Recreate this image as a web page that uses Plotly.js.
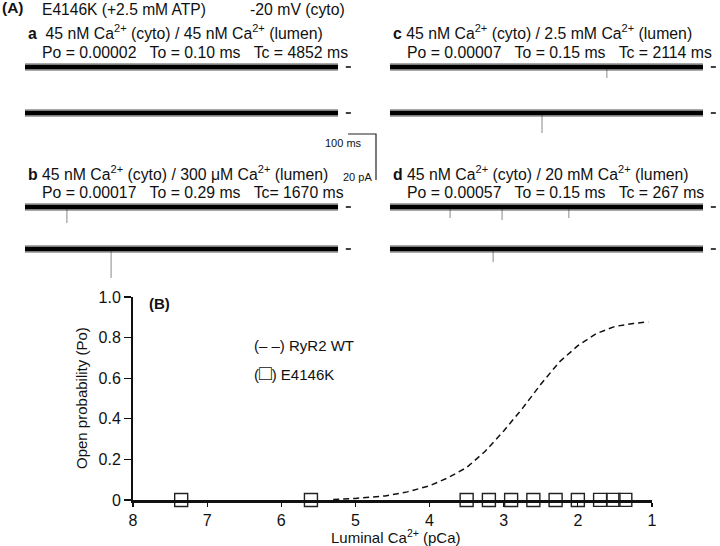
<!DOCTYPE html>
<html><head><meta charset="utf-8">
<script src="https://cdn.plot.ly/plotly-3.0.1.min.js"></script>
<style>html,body{margin:0;padding:0;background:#fff}</style>
</head><body>
<div id="chart" style="width:720px;height:546px"></div>
<script>
// ---------- DATA ----------
// Panel A: single-channel records
const panelIds = ['a', 'b', 'c', 'd'];
const lumenCa = ['45 nM', '300 μM', '2.5 mM', '20 mM'];
const cytoCa = '45 nM';
const poValues = ['0.00002', '0.00017', '0.00007', '0.00057'];
const toValues = ['0.10', '0.29', '0.15', '0.15'];
const tcValues = ['4852', '1670', '2114', '267'];
const sweepDuration = 1120; // ms per sweep
// openings visible in each sweep: time (ms) and amplitude (pA)
const spikeTimesA1 = [], spikeAmpsA1 = [];
const spikeTimesA2 = [], spikeAmpsA2 = [];
const spikeTimesB1 = [150], spikeAmpsB1 = [7.0];
const spikeTimesB2 = [308], spikeAmpsB2 = [12.6];
const spikeTimesC1 = [776], spikeAmpsC1 = [4.8];
const spikeTimesC2 = [544], spikeAmpsC2 = [8.7];
const spikeTimesD1 = [215, 401, 640], spikeAmpsD1 = [4.8, 5.7, 4.8];
const spikeTimesD2 = [369], spikeAmpsD2 = [5.7];

// Panel B: Po vs luminal pCa
const pCaE4146K = [7.35, 5.6, 3.5, 3.2, 2.9, 2.6, 2.3, 2.0, 1.7, 1.52, 1.36];
const poE4146K = [0.00002, 0.00003, 0.00017, 0.0001, 0.0001, 0.00007, 0.0002, 0.0003, 0.00057, 0.0005, 0.0006];
const pCaWT = [5.3, 5.0, 4.6, 4.3, 4.0, 3.75, 3.5, 3.25, 3.0, 2.75, 2.5, 2.25, 2.0, 1.75, 1.5, 1.25, 1.05];
const poWT = [0.002, 0.008, 0.02, 0.04, 0.07, 0.11, 0.16, 0.24, 0.34, 0.45, 0.57, 0.68, 0.76, 0.82, 0.855, 0.87, 0.877];
const xTickVals = [8, 7, 6, 5, 4, 3, 2, 1];
const yTickVals = [0, 0.2, 0.4, 0.6, 0.8, 1.0];
const yTickText = ['0', '0.2', '0.4', '0.6', '0.8', '1.0'];

// ---------- LAYOUT HELPERS ----------
const W = 720, H = 546;
const FONT = 'Liberation Sans, Arial, sans-serif';
const px = x => x / W;
const py = y => 1 - y / H;
const PX_PER_PA = 2.3;
const PX_PER_MS = 313 / sweepDuration;
const X_MAX = 1168;
const LABEL_SIZE = 15.8;

const spikes = [
  [[spikeTimesA1, spikeAmpsA1], [spikeTimesA2, spikeAmpsA2]],
  [[spikeTimesB1, spikeAmpsB1], [spikeTimesB2, spikeAmpsB2]],
  [[spikeTimesC1, spikeAmpsC1], [spikeTimesC2, spikeAmpsC2]],
  [[spikeTimesD1, spikeAmpsD1], [spikeTimesD2, spikeAmpsD2]]
];
const leftPx = [25, 25, 390, 390];
const base1Px = [67, 207, 67, 207];
const base2Px = [113, 249, 113, 249];

const traces = [];
const layout = {
  width: W, height: H,
  margin: {l: 0, r: 0, t: 0, b: 0},
  paper_bgcolor: '#fff', plot_bgcolor: 'rgba(0,0,0,0)',
  showlegend: false,
  font: {family: FONT, color: '#111', size: 15},
  annotations: [], shapes: []
};

panelIds.forEach((id, i) => {
  const n = i + 2;
  const xa = 'x' + n, ya = 'y' + n;
  const top = base1Px[i] - 12, bot = base1Px[i] + 78;
  layout['xaxis' + n] = {
    domain: [px(leftPx[i]), px(leftPx[i] + X_MAX * PX_PER_MS)],
    range: [0, X_MAX], visible: false, anchor: ya, fixedrange: true
  };
  layout['yaxis' + n] = {
    domain: [py(bot), py(top)],
    range: [-78 / PX_PER_PA, 12 / PX_PER_PA], visible: false, anchor: xa, fixedrange: true
  };
  const offsets = [0, -(base2Px[i] - base1Px[i]) / PX_PER_PA];
  offsets.forEach((off, s) => {
    const [tArr, aArr] = spikes[i][s];
    const sx = [], sy = [];
    tArr.forEach((t, k) => { sx.push(t, t, null); sy.push(off, off - aArr[k], null); });
    if (sx.length) traces.push({x: sx, y: sy, xaxis: xa, yaxis: ya, mode: 'lines',
      line: {color: '#8a8a8a', width: 1}, hoverinfo: 'skip'});
    traces.push({x: [0, sweepDuration], y: [off, off], xaxis: xa, yaxis: ya, mode: 'lines',
      line: {color: 'rgba(40,40,40,0.4)', width: 8}, hoverinfo: 'skip'});
    traces.push({x: [0, sweepDuration], y: [off, off], xaxis: xa, yaxis: ya, mode: 'lines',
      line: {color: '#000', width: 4.5}, hoverinfo: 'skip'});
    traces.push({x: [1148, 1166], y: [off, off], xaxis: xa, yaxis: ya, mode: 'lines',
      line: {color: '#000', width: 1.3}, hoverinfo: 'skip'});
  });
  const sp = '\u00A0\u00A0\u00A0';
  layout.annotations.push({
    xref: 'paper', yref: 'paper', x: px(leftPx[i] + 1), y: py(i % 2 === 0 ? 32 : 173),
    xanchor: 'left', yanchor: 'middle', showarrow: false,
    text: '<b>' + id + '</b>' + (i === 0 ? '\u00A0\u00A0' : '\u00A0') + cytoCa + ' Ca<sup>2+</sup> (cyto) / ' + lumenCa[i] + ' Ca<sup>2+</sup> (lumen)',
    font: {size: LABEL_SIZE}
  });
  const tcSep = (id === 'b') ? 'Tc= ' : 'Tc = ';
  layout.annotations.push({
    xref: 'paper', yref: 'paper', x: px(leftPx[i] + 15), y: py(i % 2 === 0 ? 52 : 192),
    xanchor: 'left', yanchor: 'middle', showarrow: false,
    text: 'Po = ' + poValues[i] + sp + 'To = ' + toValues[i] + ' ms' + sp + tcSep + tcValues[i] + ' ms',
    font: {size: LABEL_SIZE}
  });
});

layout.annotations.push(
  {xref: 'paper', yref: 'paper', x: px(0), y: py(8), xanchor: 'left', yanchor: 'middle', showarrow: false,
   text: '<b>(A)</b>', font: {size: 15.5}},
  {xref: 'paper', yref: 'paper', x: px(40), y: py(9), xanchor: 'left', yanchor: 'middle', showarrow: false,
   text: 'E4146K (+2.5 mM ATP)', font: {size: 15.6}},
  {xref: 'paper', yref: 'paper', x: px(248), y: py(9), xanchor: 'left', yanchor: 'middle', showarrow: false,
   text: '-20 mV (cyto)', font: {size: 15.8}},
  {xref: 'paper', yref: 'paper', x: px(364), y: py(143), xanchor: 'right', yanchor: 'middle', showarrow: false,
   text: '100 ms', font: {size: 11}},
  {xref: 'paper', yref: 'paper', x: px(374), y: py(177), xanchor: 'right', yanchor: 'middle', showarrow: false,
   text: '20 pA', font: {size: 11}}
);
const barX1 = 376, barY0 = 134;
layout.shapes.push({type: 'path', xref: 'paper', yref: 'paper',
  path: 'M ' + px(barX1 - 100 * PX_PER_MS) + ' ' + py(barY0) + ' L ' + px(barX1) + ' ' + py(barY0) +
        ' L ' + px(barX1) + ' ' + py(barY0 + 20 * PX_PER_PA),
  line: {color: '#222', width: 1.2}});

// ---------- PANEL B ----------
traces.push({x: pCaWT, y: poWT, mode: 'lines', xaxis: 'x', yaxis: 'y',
  line: {color: '#111', width: 1.5, dash: '6px,4px'}, hoverinfo: 'skip'});
traces.push({x: pCaE4146K, y: poE4146K, mode: 'markers', xaxis: 'x', yaxis: 'y', cliponaxis: false,
  marker: {symbol: 'square-open', size: 13, color: '#222', line: {width: 1.4, color: '#222'}}, hoverinfo: 'skip'});

layout.xaxis = {
  domain: [px(133), px(652)], range: [8, 1], anchor: 'y',
  tickvals: xTickVals, ticks: 'outside', ticklen: 4, tickwidth: 1.2, tickcolor: '#111',
  showline: true, linecolor: '#111', linewidth: 2.5, showgrid: false, zeroline: false,
  tickfont: {size: 16, family: FONT}, fixedrange: true
};
layout.yaxis = {
  domain: [py(500), py(297)], range: [0, 1], anchor: 'x',
  tickvals: yTickVals, ticktext: yTickText, ticks: 'outside', ticklen: 7, tickwidth: 1.2, tickcolor: '#111',
  showline: true, linecolor: '#111', linewidth: 2, showgrid: false, zeroline: false,
  tickfont: {size: 16, family: FONT}, fixedrange: true
};
layout.annotations.push(
  {xref: 'paper', yref: 'paper', x: px(396), y: py(536), xanchor: 'center', yanchor: 'middle', showarrow: false,
   text: 'Luminal Ca<sup>2+</sup> (pCa)', font: {size: 15}},
  {xref: 'paper', yref: 'paper', x: px(81), y: py(398), xanchor: 'center', yanchor: 'middle', showarrow: false,
   textangle: -90, text: 'Open probability (Po)', font: {size: 15}},
  {xref: 'paper', yref: 'paper', x: px(147), y: py(303), xanchor: 'left', yanchor: 'middle', showarrow: false,
   text: '<b>(B)</b>', font: {size: 15}},
  {xref: 'paper', yref: 'paper', x: px(252), y: py(345), xanchor: 'left', yanchor: 'middle', showarrow: false,
   text: '(– –) RyR2 WT', font: {size: 15}},
  {xref: 'paper', yref: 'paper', x: px(252), y: py(372), xanchor: 'left', yanchor: 'middle', showarrow: false,
   text: '(<span style="font-size:21px">\u25A1</span>) E4146K', font: {size: 15}}
);

Plotly.newPlot('chart', traces, layout, {staticPlot: true, displayModeBar: false});
</script>
</body></html>
